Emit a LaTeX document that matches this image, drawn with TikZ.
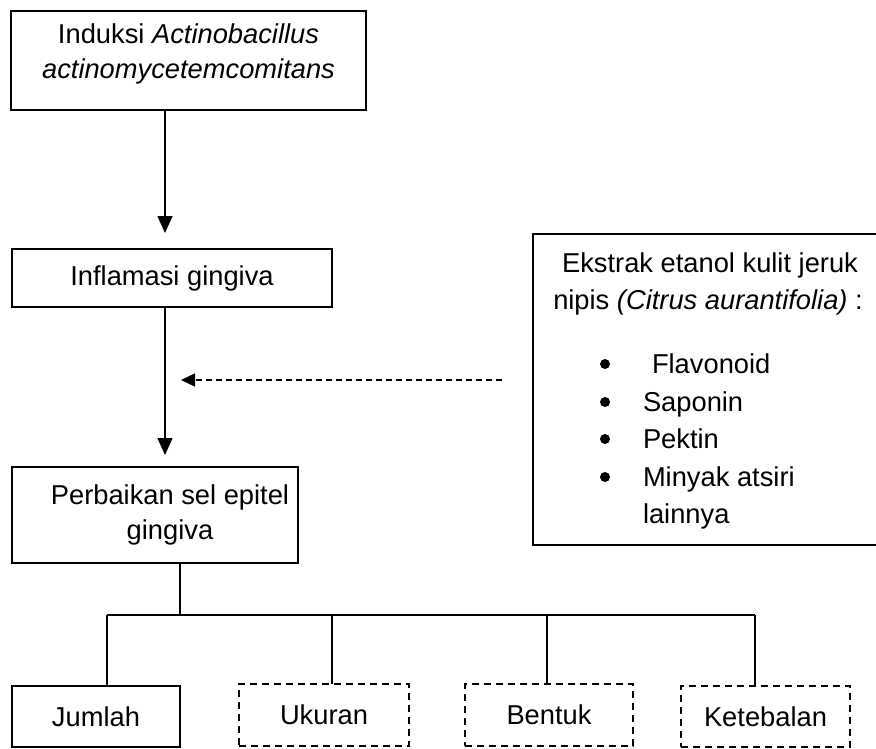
\documentclass[tikz,border=0pt]{standalone}
\usepackage{fontspec}
\setmainfont{Liberation Sans}
\usetikzlibrary{arrows.meta}
\begin{document}
\begin{tikzpicture}[x=1pt,y=-1pt,
  every node/.style={font=\fontsize{27.3}{35}\selectfont, inner sep=0pt, outer sep=0pt},
  box/.style={draw, line width=1.4pt, align=center},
  dbox/.style={draw, line width=1.4pt, dash pattern=on 7pt off 5pt, align=center},
  conn/.style={line width=1.4pt},
  arr/.style={conn, -{Triangle[length=17pt,width=15pt]}},
  darr/.style={line width=1.3pt, dash pattern=on 6pt off 4pt, -{Triangle[length=14pt,width=13pt]}},
  lbl/.style={anchor=base},
  item/.style={anchor=base west},
  dot/.style={circle, fill, minimum size=10pt},
]
\useasboundingbox (0,0) rectangle (876,748);

% main chain
\node[box, minimum width=355pt, minimum height=99pt] (b1) at (188.5,60.5)
  {Induksi \textit{Actinobacillus}\\\textit{actinomycetemcomitans}\rule[-19pt]{0pt}{1pt}};
\node[box, minimum width=320pt, minimum height=58pt] (b2) at (172,278) {Inflamasi gingiva};
\node[box, minimum width=286pt, minimum height=96pt] (b3) at (155,515)
  {\hspace*{30pt}Perbaikan sel epitel\\\hspace*{30pt}gingiva};

% extract box
\node[draw, line width=1.4pt, minimum width=352pt, minimum height=311pt] (ext) at (709,389.5) {};
\node[lbl] (e1) at (710,272) {Ekstrak etanol kulit jeruk};
\node[lbl] (e2) at (708,309) {nipis \textit{(Citrus aurantifolia)} :};
\node[dot] (p1) at (605,364) {};
\node[dot] (p2) at (605,402) {};
\node[dot] (p3) at (605,439) {};
\node[dot] (p4) at (605,477) {};
\node[item] (i1) at (652,373) {Flavonoid};
\node[item] (i2) at (643,411) {Saponin};
\node[item] (i3) at (643,448) {Pektin};
\node[item] (i4) at (643,486) {Minyak atsiri};
\node[item] (i5) at (643,523) {lainnya};

% bottom boxes
\node[box, minimum width=168pt, minimum height=61pt] (n1) at (96,716.5) {Jumlah};
\node[dbox, minimum width=170pt, minimum height=62pt] (n2) at (324,715) {Ukuran};
\node[dbox, minimum width=168pt, minimum height=62pt] (n3) at (549,715) {Bentuk};
\node[dbox, minimum width=169pt, minimum height=61pt] (n4) at (765.5,716.5) {Ketebalan};

% arrows
\coordinate (a1) at (165,233);
\coordinate (a2) at (165,455);
\draw[arr] (a1 |- b1.south) -- (a1);
\draw[arr] (a2 |- b2.south) -- (a2);
\coordinate (d0) at (502,380);
\coordinate (d1) at (181,380);
\draw[darr] (d0) -- (d1);

% tree
\coordinate (hc) at (180,615);
\coordinate (hj) at (107,615);
\coordinate (hu) at (332,615);
\coordinate (hb) at (547,615);
\coordinate (hk) at (755,615);
\draw[conn] (hc |- b3.south) -- (hc);
\draw[conn] (hj) -- (hk);
\draw[conn] (hj) -- (hj |- n1.north);
\draw[conn] (hu) -- (hu |- n2.north);
\draw[conn] (hb) -- (hb |- n3.north);
\draw[conn] (hk) -- (hk |- n4.north);
\end{tikzpicture}
\end{document}
